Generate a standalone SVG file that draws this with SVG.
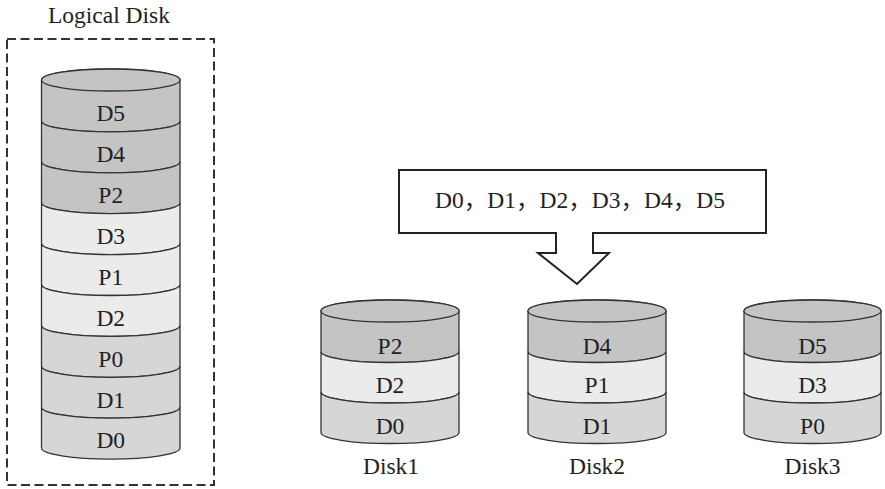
<svg xmlns="http://www.w3.org/2000/svg" width="885" height="489" viewBox="0 0 885 489">
<style>
text{font-family:"Liberation Serif","Times New Roman",serif;font-size:23.5px;fill:#222;text-anchor:middle}
.dk{fill:#c4c4c4}
.lt{fill:#ebebeb}
.md{fill:#d6d6d6}
.band{stroke:#333;stroke-width:1.3}
.cap{stroke:#333;stroke-width:1.3}
</style>
<rect width="885" height="489" fill="#fff"/>
<g id="logical-disk">
<text x="109" y="23">Logical Disk</text>
<rect x="7" y="39" width="207" height="446" fill="none" stroke="#333" stroke-width="2" stroke-dasharray="9 4.5"/>
<g id="ld-cyl">
<path class="band dk" d="M41.5 120.9 V80 A69.25 11 0 0 1 180 80 V120.9 A69.25 11 0 0 1 41.5 120.9 Z"/>
<path class="band dk" d="M41.5 161.8 V120.9 A69.25 11 0 0 0 180 120.9 V161.8 A69.25 11 0 0 1 41.5 161.8 Z"/>
<path class="band dk" d="M41.5 202.7 V161.8 A69.25 11 0 0 0 180 161.8 V202.7 A69.25 11 0 0 1 41.5 202.7 Z"/>
<path class="band lt" d="M41.5 243.6 V202.7 A69.25 11 0 0 0 180 202.7 V243.6 A69.25 11 0 0 1 41.5 243.6 Z"/>
<path class="band lt" d="M41.5 284.5 V243.6 A69.25 11 0 0 0 180 243.6 V284.5 A69.25 11 0 0 1 41.5 284.5 Z"/>
<path class="band lt" d="M41.5 325.4 V284.5 A69.25 11 0 0 0 180 284.5 V325.4 A69.25 11 0 0 1 41.5 325.4 Z"/>
<path class="band md" d="M41.5 366.3 V325.4 A69.25 11 0 0 0 180 325.4 V366.3 A69.25 11 0 0 1 41.5 366.3 Z"/>
<path class="band md" d="M41.5 407.2 V366.3 A69.25 11 0 0 0 180 366.3 V407.2 A69.25 11 0 0 1 41.5 407.2 Z"/>
<path class="band md" d="M41.5 448.1 V407.2 A69.25 11 0 0 0 180 407.2 V448.1 A69.25 11 0 0 1 41.5 448.1 Z"/>
<ellipse class="cap dk" cx="110.75" cy="80" rx="69.25" ry="11"/>
<text x="110.75" y="121">D5</text>
<text x="110.75" y="162">D4</text>
<text x="110.75" y="203">P2</text>
<text x="110.75" y="244">D3</text>
<text x="110.75" y="285">P1</text>
<text x="110.75" y="326">D2</text>
<text x="110.75" y="367">P0</text>
<text x="110.75" y="408">D1</text>
<text x="110.75" y="448">D0</text>
</g>
</g>
<g id="connectors">
<polygon points="399,170 766,170 766,233 593,233 593,253 609,253 577,284 538,253 556,253 556,233 399,233" fill="#fff" stroke="#222" stroke-width="2" stroke-linejoin="miter"/>
<text x="580" y="208" textLength="290" lengthAdjust="spacing" style="font-family:'Liberation Serif','Noto Sans CJK SC',serif">D0，D1，D2，D3，D4，D5</text>
</g>
<g id="disk1">
<path class="band dk" d="M321 351.5 V311 A69 11 0 0 1 459 311 V351.5 A69 11 0 0 1 321 351.5 Z"/>
<path class="band lt" d="M321 392 V351.5 A69 11 0 0 0 459 351.5 V392 A69 11 0 0 1 321 392 Z"/>
<path class="band md" d="M321 432.5 V392 A69 11 0 0 0 459 392 V432.5 A69 11 0 0 1 321 432.5 Z"/>
<ellipse class="cap dk" cx="390" cy="311" rx="69" ry="11"/>
<text x="390" y="354">P2</text>
<text x="390" y="393">D2</text>
<text x="390" y="434">D0</text>
<text x="391" y="474">Disk1</text>
</g>
<g id="disk2">
<path class="band dk" d="M528 351.5 V311 A69 11 0 0 1 666 311 V351.5 A69 11 0 0 1 528 351.5 Z"/>
<path class="band lt" d="M528 392 V351.5 A69 11 0 0 0 666 351.5 V392 A69 11 0 0 1 528 392 Z"/>
<path class="band md" d="M528 432.5 V392 A69 11 0 0 0 666 392 V432.5 A69 11 0 0 1 528 432.5 Z"/>
<ellipse class="cap dk" cx="597" cy="311" rx="69" ry="11"/>
<text x="597" y="354">D4</text>
<text x="597" y="393">P1</text>
<text x="597" y="434">D1</text>
<text x="597" y="474">Disk2</text>
</g>
<g id="disk3">
<path class="band dk" d="M744 351.5 V311 A68.5 11 0 0 1 881 311 V351.5 A68.5 11 0 0 1 744 351.5 Z"/>
<path class="band lt" d="M744 392 V351.5 A68.5 11 0 0 0 881 351.5 V392 A68.5 11 0 0 1 744 392 Z"/>
<path class="band md" d="M744 432.5 V392 A68.5 11 0 0 0 881 392 V432.5 A68.5 11 0 0 1 744 432.5 Z"/>
<ellipse class="cap dk" cx="812.5" cy="311" rx="68.5" ry="11"/>
<text x="812.5" y="354">D5</text>
<text x="812.5" y="393">D3</text>
<text x="812.5" y="434">P0</text>
<text x="812.5" y="474">Disk3</text>
</g>
</svg>
